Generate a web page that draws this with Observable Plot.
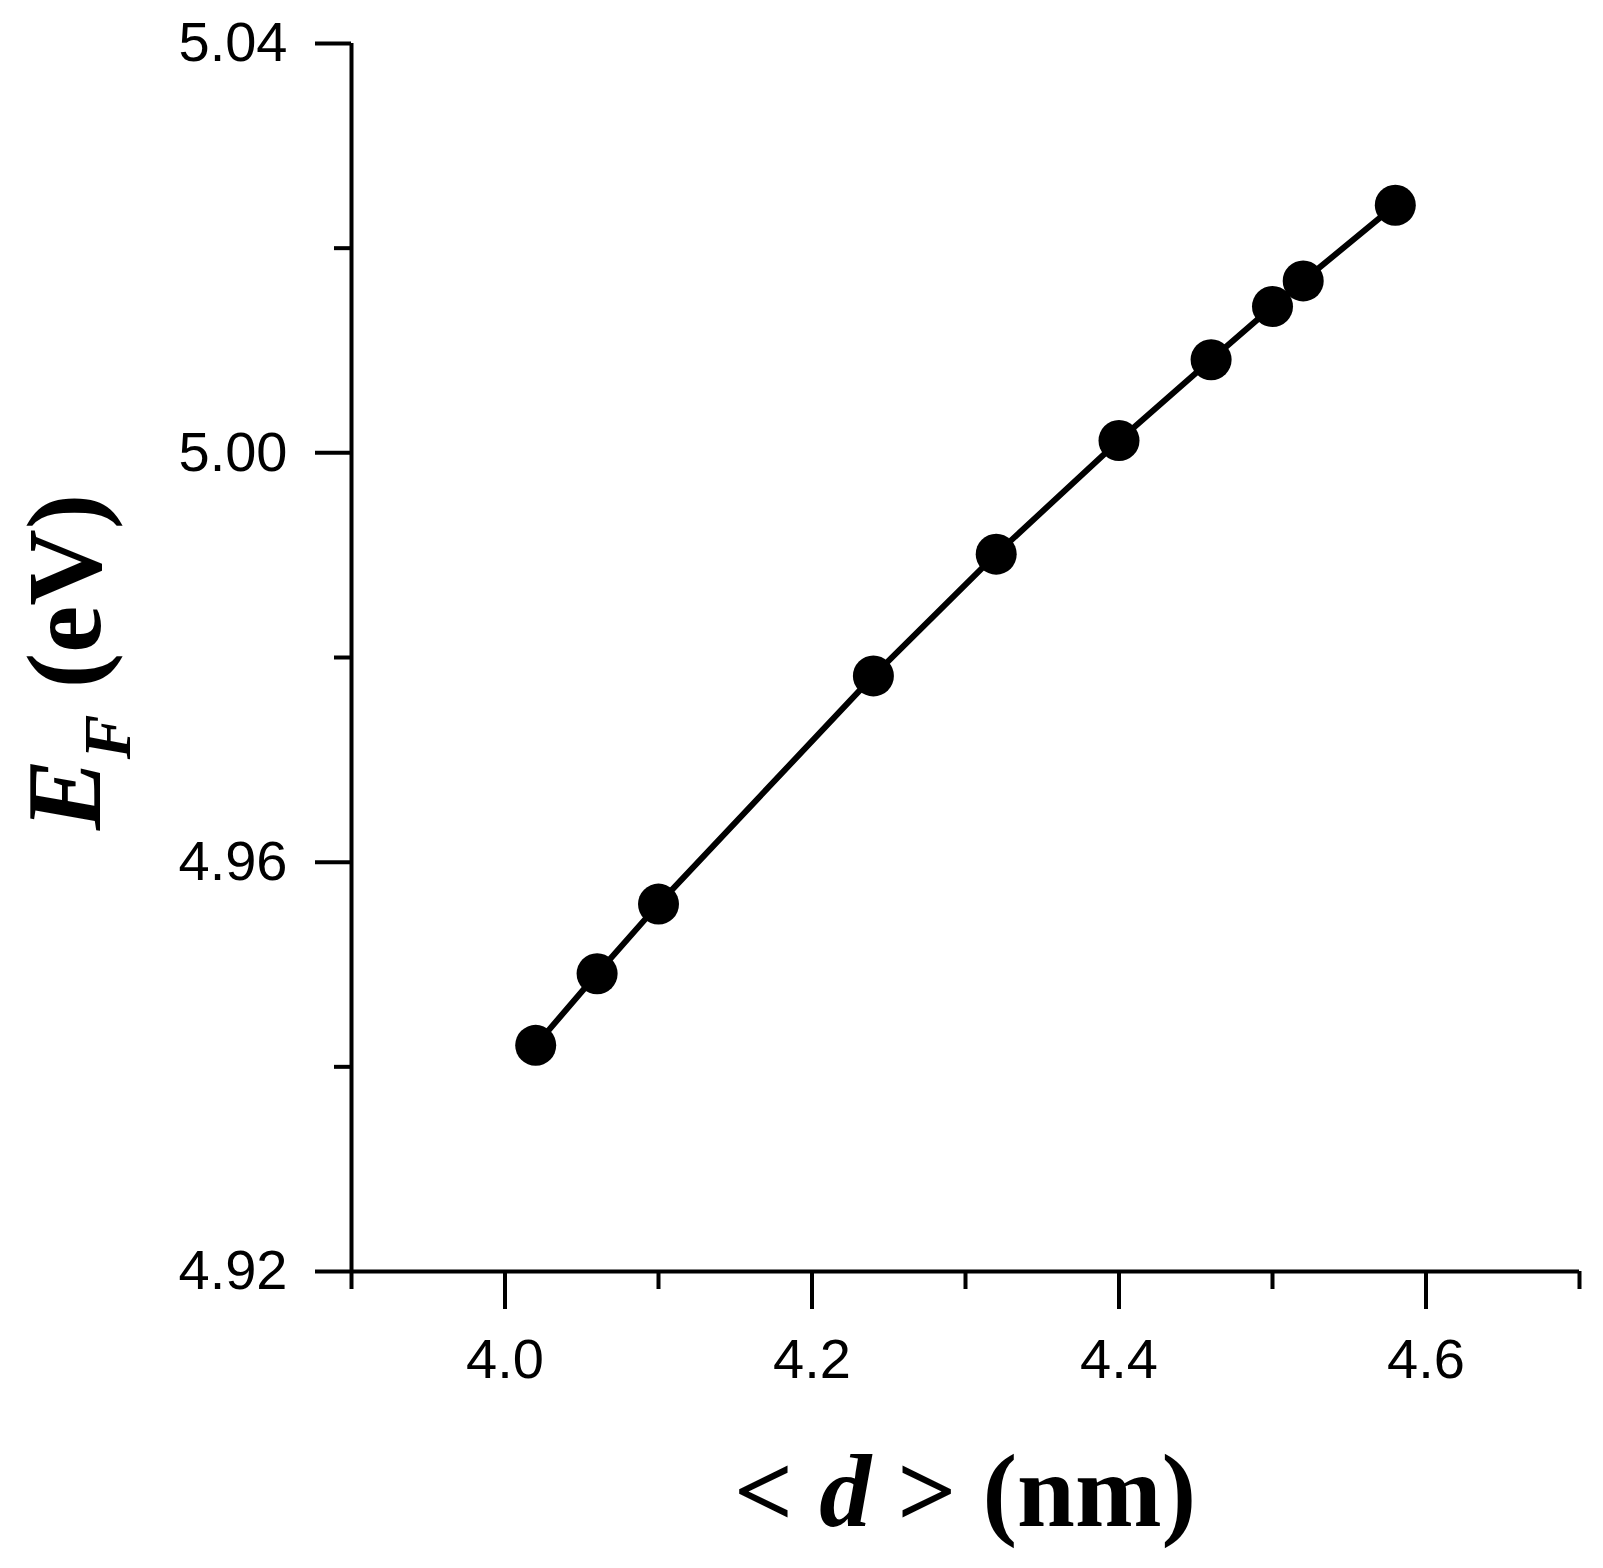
<!DOCTYPE html>
<html>
<head>
<meta charset="utf-8">
<script src="https://cdn.jsdelivr.net/npm/d3@7"></script>
<script src="https://cdn.jsdelivr.net/npm/@observablehq/plot@0.6"></script>
<style>
  html, body { margin: 0; padding: 0; background: #fff; }
  svg text { white-space: pre; }
</style>
</head>
<body>
<div id="chart"></div>
<script>
// Data
const diameter = [4.02, 4.06, 4.10, 4.24, 4.32, 4.40, 4.46, 4.50, 4.52, 4.58];
const fermiEnergy = [4.9421, 4.9491, 4.9559, 4.9782, 4.9901, 5.0012, 5.0091, 5.0143, 5.0168, 5.0242];
const xMajorTicks = [4.0, 4.2, 4.4, 4.6];
const xMinorTicks = [3.9, 4.1, 4.3, 4.5, 4.7];
const yMajorTicks = [4.92, 4.96, 5.00, 5.04];
const yMinorTicks = [4.94, 4.98, 5.02];
const xTitle = ["< ", "d", " > (nm)"];
const yTitle = ["E", "F", " (eV)"];

const data = diameter.map((d, i) => ({d, e: fermiEnergy[i]}));

const W = 1603, H = 1568;
const chart = Plot.plot({
  width: W,
  height: H,
  marginLeft: 351,
  marginRight: 24,
  marginTop: 43,
  marginBottom: 297,
  style: {fontFamily: "'Liberation Sans', Arial, sans-serif", color: "#000", background: "#fff"},
  x: {domain: [3.9, 4.7]},
  y: {domain: [4.92, 5.04]},
  marks: [
    Plot.axisX({ticks: xMajorTicks, tickSize: 38, tickPadding: 29, fontSize: 56, tickFormat: d3.format(".1f"), strokeWidth: 4, label: null}),
    Plot.axisX({ticks: xMinorTicks, tickSize: 18, text: null, strokeWidth: 4, label: null}),
    Plot.axisY({ticks: yMajorTicks, tickSize: 36, tickPadding: 28, fontSize: 56, tickFormat: d3.format(".2f"), strokeWidth: 4, label: null}),
    Plot.axisY({ticks: yMinorTicks, tickSize: 17, text: null, strokeWidth: 4, label: null}),
    Plot.ruleX([3.9], {y1: 4.92, y2: 5.04, stroke: "#000", strokeWidth: 4}),
    Plot.ruleY([4.92], {x1: 3.9, x2: 4.7, stroke: "#000", strokeWidth: 4}),
    Plot.line(data, {x: "d", y: "e", stroke: "#000", strokeWidth: 6}),
    Plot.dot(data, {x: "d", y: "e", r: 20.5, fill: "#000", stroke: "none"})
  ]
});
document.getElementById("chart").appendChild(chart);

const svg = d3.select(chart);
const xs = chart.scale("x"), ys = chart.scale("y");
const cx = (xs.apply(3.9) + xs.apply(4.7)) / 2;
const cy = (ys.apply(4.92) + ys.apply(5.04)) / 2;
const serif = "'Liberation Serif', 'Times New Roman', serif";

// x-axis title
const tx = svg.append("text")
  .attr("transform", `translate(${cx},1526)`)
  .attr("text-anchor", "middle")
  .attr("font-family", serif)
  .attr("font-weight", "bold")
  .attr("font-size", 104)
  .attr("fill", "#000");
tx.append("tspan").text(xTitle[0]);
tx.append("tspan").attr("font-style", "italic").text(xTitle[1]);
tx.append("tspan").text(xTitle[2]);

// y-axis title
const ty = svg.append("text")
  .attr("transform", `translate(100,${cy + 5}) rotate(-90)`)
  .attr("text-anchor", "middle")
  .attr("font-family", serif)
  .attr("font-weight", "bold")
  .attr("font-size", 106)
  .attr("fill", "#000");
ty.append("tspan").attr("font-style", "italic").text(yTitle[0]);
ty.append("tspan").attr("font-style", "italic").attr("font-size", 67).attr("dy", 30).text(yTitle[1]);
ty.append("tspan").attr("dy", -30).text(yTitle[2]);
</script>
</body>
</html>
